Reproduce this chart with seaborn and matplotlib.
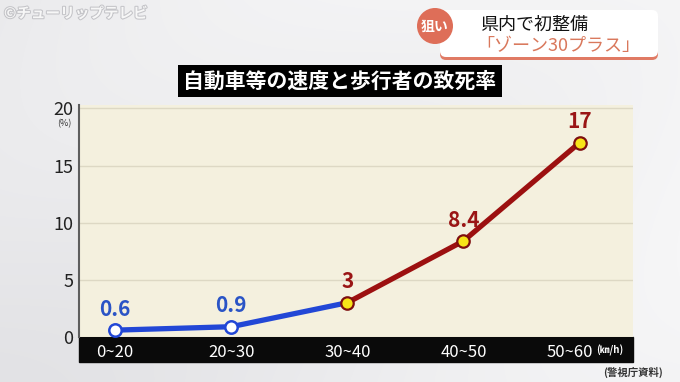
import numpy as np
import pandas as pd
import matplotlib
matplotlib.use("Agg")
import matplotlib.pyplot as plt
import matplotlib.patheffects as pe
import matplotlib.transforms as mtransforms
from matplotlib.patches import Rectangle, FancyBboxPatch, Circle
from matplotlib.colors import LinearSegmentedColormap
import seaborn as sns

# ---- data ----
categories = ["0~20", "20~30", "30~40", "40~50", "50~60"]
rates = [0.6, 0.9, 3, 8.4, 17]
rate_labels = ["0.6", "0.9", "3", "8.4", "17"]
low_segment = [0, 1, 2]     # blue part
high_segment = [2, 3, 4]    # red part
yticks = [0, 5, 10, 15, 20]
title = "自動車等の速度と歩行者の致死率"
caption1 = "県内で初整備"
caption2 = "「ゾーン30プラス」"
badge = "狙い"
logo = "©チューリップテレビ"
unit_x = "(㎞/h)"
unit_y = "(%)"
source = "(警視庁資料)"

sns.set_theme(style="white")
plt.rcParams['font.family'] = ['Noto Sans CJK JP', 'DejaVu Sans']

W, H = 680, 382
fig = plt.figure(figsize=(W / 100, H / 100), dpi=100)

# background axes (pixel coords)
bg = fig.add_axes([0, 0, 1, 1], zorder=-10)
bg.set_xlim(0, W); bg.set_ylim(H, 0); bg.axis('off')
yy, xx = np.mgrid[0:H, 0:W]
grad = 0.55 * (xx / W) + 0.25 * (1 - yy / H) + 0.12 * np.sin((xx * 0.6 + yy) / 90.0)
cmap = LinearSegmentedColormap.from_list("bgc", ["#e2e2e5", "#f6f6f7"])
bg.imshow(grad, extent=[0, W, H, 0], cmap=cmap, aspect='auto', zorder=0)
# black band for category labels
bg.add_patch(Rectangle((79, 337), 633 - 79, 25, color='#0a0a0a', zorder=2))

# main plot axes
left, right, top, bottom = 79, 633, 105, 337
ax = fig.add_axes([left / W, 1 - bottom / H, (right - left) / W, (bottom - top) / H], zorder=0)
ax.set_facecolor('#f4f0de')

df = pd.DataFrame({'pos': np.arange(len(categories)), 'rate': rates, 'cat': categories})
lo = df.iloc[low_segment]
hi = df.iloc[high_segment]

blue = '#2247d6'
red = '#9c1010'
sns.lineplot(data=lo, x='pos', y='rate', color=blue, lw=3.8, ax=ax, zorder=3)
sns.lineplot(data=hi, x='pos', y='rate', color=red, lw=3.8, ax=ax, zorder=3)
sns.scatterplot(data=df.iloc[low_segment[:-1]], x='pos', y='rate', s=80, color='white',
                edgecolor=blue, linewidth=1.8, ax=ax, zorder=4)
sns.scatterplot(data=hi, x='pos', y='rate', s=80, color='#f7e418',
                edgecolor='#7e0e0e', linewidth=1.6, ax=ax, zorder=4)

for i, (p, v, lab) in enumerate(zip(df['pos'], df['rate'], rate_labels)):
    col = '#2a54c6' if i < 2 else '#9a1515'
    ax.annotate(lab, (p, v), xytext=(0, 15), textcoords='offset points',
                ha='center', va='center', fontsize=15, fontweight='bold', color=col, zorder=5)

ax.set_xlim(-0.31, 4.46)
ax.set_ylim(0, 20.3)
ax.set_xticks(df['pos'])
ax.set_xticklabels(categories)
ax.set_yticks(yticks)
ax.set_yticklabels([str(t) for t in yticks])
ax.tick_params(axis='x', length=0, pad=5, colors='white', labelsize=12)
ax.tick_params(axis='y', length=0, pad=4, colors='#222222', labelsize=13)
# nudge the last category label left to leave room for the unit
last = ax.get_xticklabels()[-1]
last.set_transform(last.get_transform() + mtransforms.ScaledTranslation(-0.10, 0, fig.dpi_scale_trans))
ax.set_xlabel(''); ax.set_ylabel('')
ax.grid(axis='y', color='#ddd8c4', lw=1)
ax.grid(axis='x', visible=False)
for s in ['top', 'right', 'bottom']:
    ax.spines[s].set_visible(False)
ax.spines['left'].set_color('#5e5e5e')
ax.spines['left'].set_linewidth(1.5)

# overlay for decorations (pixel coords)
ov = fig.add_axes([0, 0, 1, 1], zorder=5)
ov.set_xlim(0, W); ov.set_ylim(H, 0); ov.axis('off'); ov.patch.set_alpha(0)

ov.text(340, 81, title, ha='center', va='center', fontsize=15, fontweight='bold', color='white',
        bbox=dict(boxstyle='square,pad=0.28', fc='black', ec='none'))

# caption box
ov.add_patch(FancyBboxPatch((440, 13), 218, 47, boxstyle='round,pad=0,rounding_size=6',
                            fc='#e07a64', ec='none', zorder=1))
ov.add_patch(FancyBboxPatch((440, 10), 218, 47, boxstyle='round,pad=0,rounding_size=6',
                            fc='white', ec='none', zorder=2))
ov.add_patch(Circle((435, 26), 18, fc='#de6e58', ec='none', zorder=3))
ov.text(435, 27, badge, ha='center', va='center', fontsize=10, fontweight='bold', color='white', zorder=4)
ov.text(480, 25, caption1, ha='left', va='center', fontsize=13, color='#111111', zorder=4)
ov.text(476, 46, caption2, ha='left', va='center', fontsize=13, color='#d9785c', zorder=4)

# logo
ov.text(4, 13, logo, ha='left', va='center', fontsize=10.5, fontweight='bold', color='#f7f7f7',
        path_effects=[pe.withStroke(linewidth=1.5, foreground='#c4c4c8')])

ov.text(596, 350, unit_x, ha='left', va='center', fontsize=7, fontweight='bold', color='white')
ov.text(64, 124, unit_y, ha='center', va='center', fontsize=6.5, color='#333333')
ov.text(633, 372, source, ha='center', va='center', fontsize=7.5, fontweight='bold', color='#333333')

fig.savefig('out.png', dpi=100)
